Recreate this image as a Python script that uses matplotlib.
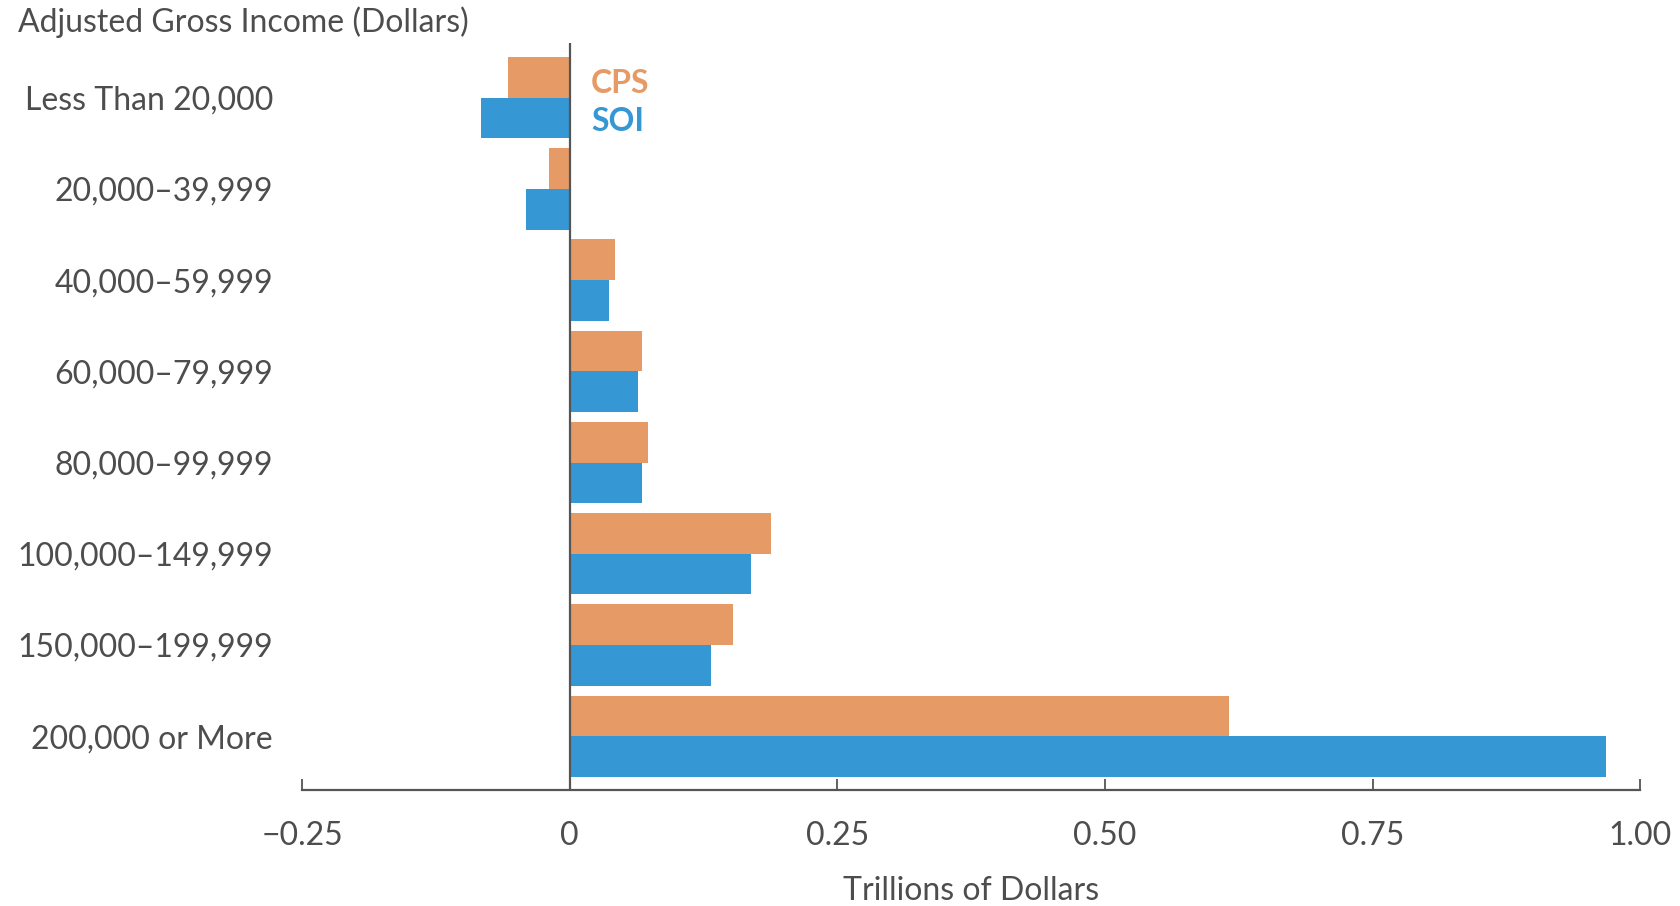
import numpy as np
import matplotlib.pyplot as plt

categories = ["Less Than 20,000", "20,000\u201339,999", "40,000\u201359,999",
              "60,000\u201379,999", "80,000\u201399,999", "100,000\u2013149,999",
              "150,000\u2013199,999", "200,000 or More"]
cps = [-0.058, -0.019, 0.042, 0.068, 0.073, 0.188, 0.153, 0.616]
soi = [-0.083, -0.041, 0.037, 0.064, 0.068, 0.169, 0.132, 0.968]
xticks = [-0.25, 0, 0.25, 0.50, 0.75, 1.00]
xtick_labels = ["\u22120.25", "0", "0.25", "0.50", "0.75", "1.00"]

CPS_COLOR = "#E69A66"
SOI_COLOR = "#3597D4"
TEXT = "#4D4D4D"
AXIS = "#555555"
FS = 23

plt.rcParams['font.family'] = ['Lato', 'DejaVu Sans']

fig = plt.figure(figsize=(16.81, 9.06), dpi=100)
ax = fig.add_axes([0.1797, 0.128, 0.796, 0.8245])

y = np.arange(len(categories))
h = 0.446
ax.barh(y - h / 2, cps, height=h, color=CPS_COLOR)
ax.barh(y + h / 2, soi, height=h, color=SOI_COLOR)

ax.axvline(0, color=AXIS, lw=1.6, zorder=3)

ax.set_xlim(-0.25, 1.0)
ax.set_ylim(7.59, -0.6)

ax.set_yticks(y)
ax.set_yticklabels(categories)
ax.set_xticks(xticks)
ax.set_xticklabels(xtick_labels)

for s in ["top", "right", "left"]:
    ax.spines[s].set_visible(False)
ax.spines["bottom"].set_color(AXIS)
ax.spines["bottom"].set_linewidth(1.6)

ax.tick_params(axis="y", length=0, pad=21, labelsize=FS, labelcolor=TEXT)
ax.tick_params(axis="x", direction="in", length=8, width=1.3, color=AXIS,
               pad=22, labelsize=FS, labelcolor=TEXT)

ax.set_xlabel("Trillions of Dollars", fontsize=FS, color=TEXT, labelpad=18)

ax.text(0.02, -h / 2 + 0.07, "CPS", color=CPS_COLOR, fontsize=FS, fontweight="bold",
        ha="left", va="center")
ax.text(0.02, h / 2 + 0.04, "SOI", color=SOI_COLOR, fontsize=FS, fontweight="bold",
        ha="left", va="center")

fig.text(18 / 1681, 1 - 22 / 906, "Adjusted Gross Income (Dollars)",
         fontsize=FS, color=TEXT, ha="left", va="center")

fig.savefig("out.png", dpi=100)
